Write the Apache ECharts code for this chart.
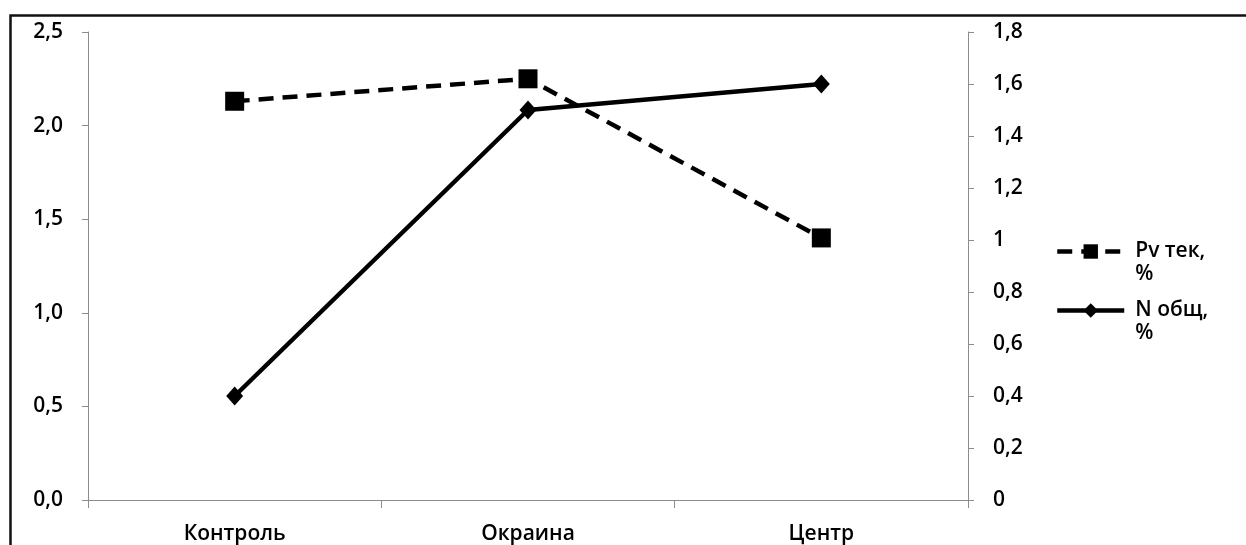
<!DOCTYPE html>
<html><head><meta charset="utf-8">
<script src="https://cdn.jsdelivr.net/npm/echarts@6/dist/echarts.min.js"></script>
<style>html,body{margin:0;padding:0;background:#fff}#c{width:1246px;height:545px}</style>
</head><body><div id="c"></div>
<script>
const categories = ['Контроль', 'Окраина', 'Центр'];
const pvName = 'Pv тек, %';
const nName = 'N общ, %';
const pvValues = [2.13, 2.25, 1.40];
const nValues = [0.4, 1.5, 1.6];

const FONT = '"Open Sans", sans-serif';
const FS = 21;
const FW = 600;
const fmtComma = d => v => v.toFixed(d).replace('.', ',');
const fmtRight = v => String(+v.toFixed(1)).replace('.', ',');

const chart = echarts.init(document.getElementById('c'));
chart.setOption({
  backgroundColor: '#fff',
  animation: false,
  graphic: [{
    type: 'rect', left: 8, top: 13,
    shape: { width: 1300, height: 600 },
    style: { fill: 'none', stroke: '#111', lineWidth: 2.5 }
  }],
  grid: { left: 88, right: 278, top: 32, bottom: 44 },
  legend: {
    orient: 'vertical', left: 1050, top: 212,
    itemWidth: 67, itemHeight: 18, itemGap: -10,
    formatter: n => '\n' + n.replace(', ', ',\n'),
    lineStyle: { width: 4.5 },
    textStyle: { fontFamily: FONT, fontSize: FS, fontWeight: FW, color: '#000', lineHeight: 23, padding: [0, 0, 0, 6] },
    data: [pvName, nName]
  },
  xAxis: {
    type: 'category', data: categories, boundaryGap: true,
    axisLine: { lineStyle: { color: '#8c8c8c', width: 1 } },
    axisTick: { show: true, length: 8, lineStyle: { color: '#8c8c8c' } },
    axisLabel: { fontFamily: FONT, fontSize: FS, fontWeight: FW, color: '#000', margin: 24 }
  },
  yAxis: [{
    type: 'value', min: 0, max: 2.5, interval: 0.5, position: 'left',
    splitLine: { show: false },
    axisLine: { show: true, lineStyle: { color: '#8c8c8c' } },
    axisTick: { show: true, length: 6, lineStyle: { color: '#8c8c8c' } },
    axisLabel: { fontFamily: FONT, fontSize: FS, fontWeight: FW, color: '#000', margin: 25, formatter: fmtComma(1) }
  }, {
    type: 'value', min: 0, max: 1.8, interval: 0.2, position: 'right',
    splitLine: { show: false },
    axisLine: { show: true, lineStyle: { color: '#8c8c8c' } },
    axisTick: { show: true, length: 6, lineStyle: { color: '#8c8c8c' } },
    axisLabel: { fontFamily: FONT, fontSize: FS, fontWeight: FW, color: '#000', margin: 25, formatter: fmtRight }
  }],
  series: [{
    name: pvName, type: 'line', yAxisIndex: 0, data: pvValues,
    symbol: 'rect', symbolSize: 19,
    itemStyle: { color: '#000' },
    lineStyle: { color: '#000', width: 4.5, type: [15, 9] }
  }, {
    name: nName, type: 'line', yAxisIndex: 1, data: nValues,
    symbol: 'diamond', symbolSize: [17, 19],
    itemStyle: { color: '#000' },
    lineStyle: { color: '#000', width: 4.5 }
  }]
});
</script></body></html>
